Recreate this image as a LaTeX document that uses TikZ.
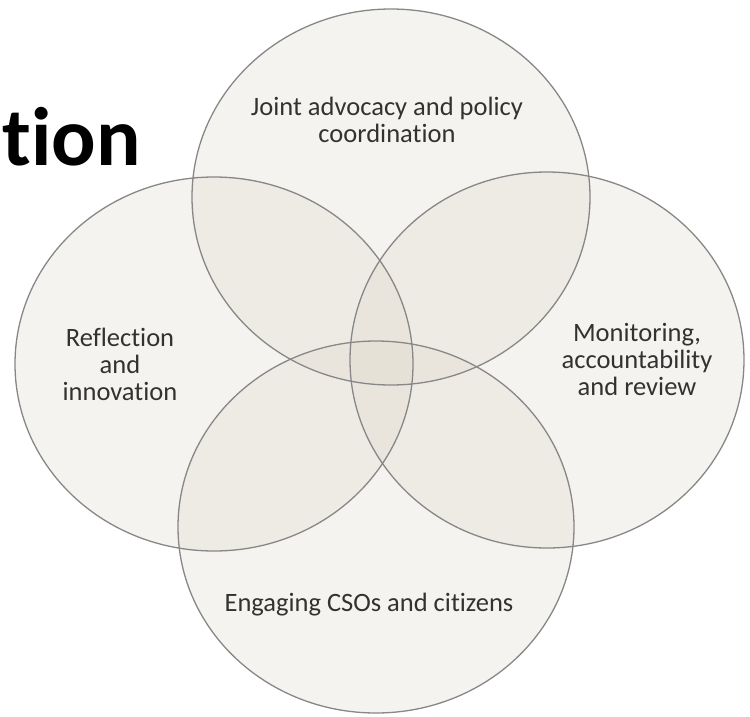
\documentclass[tikz,border=0pt]{standalone}
\usepackage{fontspec}
\setmainfont[Ligatures=NoCommon]{Carlito}
\definecolor{discfill}{RGB}{221,216,202}
\definecolor{discline}{RGB}{135,135,135}
\definecolor{disctext}{RGB}{50,50,50}
\tikzset{
  disc/.style={fill=discfill,fill opacity=0.3,draw=none},
  rim/.style={draw=discline,line width=1.3pt},
  label/.style={align=center,text=disctext,font=\fontsize{26.5}{27}\selectfont}
}
\begin{document}
\begin{tikzpicture}[x=1pt,y=-1pt]
 \useasboundingbox (0,0) rectangle (750,716);
 % shaded discs first, outlines on top
 \fill[disc] (391,197) ellipse [x radius=199,y radius=188];
 \fill[disc] (214,364) ellipse [x radius=199,y radius=187];
 \fill[disc] (547,360) ellipse [x radius=197,y radius=188];
 \fill[disc] (376,527) ellipse [x radius=198,y radius=186];
 \draw[rim] (391,197) ellipse [x radius=199,y radius=188];
 \draw[rim] (214,364) ellipse [x radius=199,y radius=187];
 \draw[rim] (547,360) ellipse [x radius=197,y radius=188];
 \draw[rim] (376,527) ellipse [x radius=198,y radius=186];
 % texts
 \node[label] (joint) at (387,120) {Joint advocacy and policy\\coordination};
 \node[label] (reflect) at (120,364) {Reflection\\and\\innovation};
 \node[label] (monitor) at (637,359) {Monitoring,\\accountability\\and review};
 \node[label] (engage) at (369,605) {Engaging CSOs and citizens};
 \node[anchor=base west,inner sep=0pt,font=\fontsize{83}{83}\selectfont\bfseries] (title) at (2,165) {tion};
\end{tikzpicture}
\end{document}
